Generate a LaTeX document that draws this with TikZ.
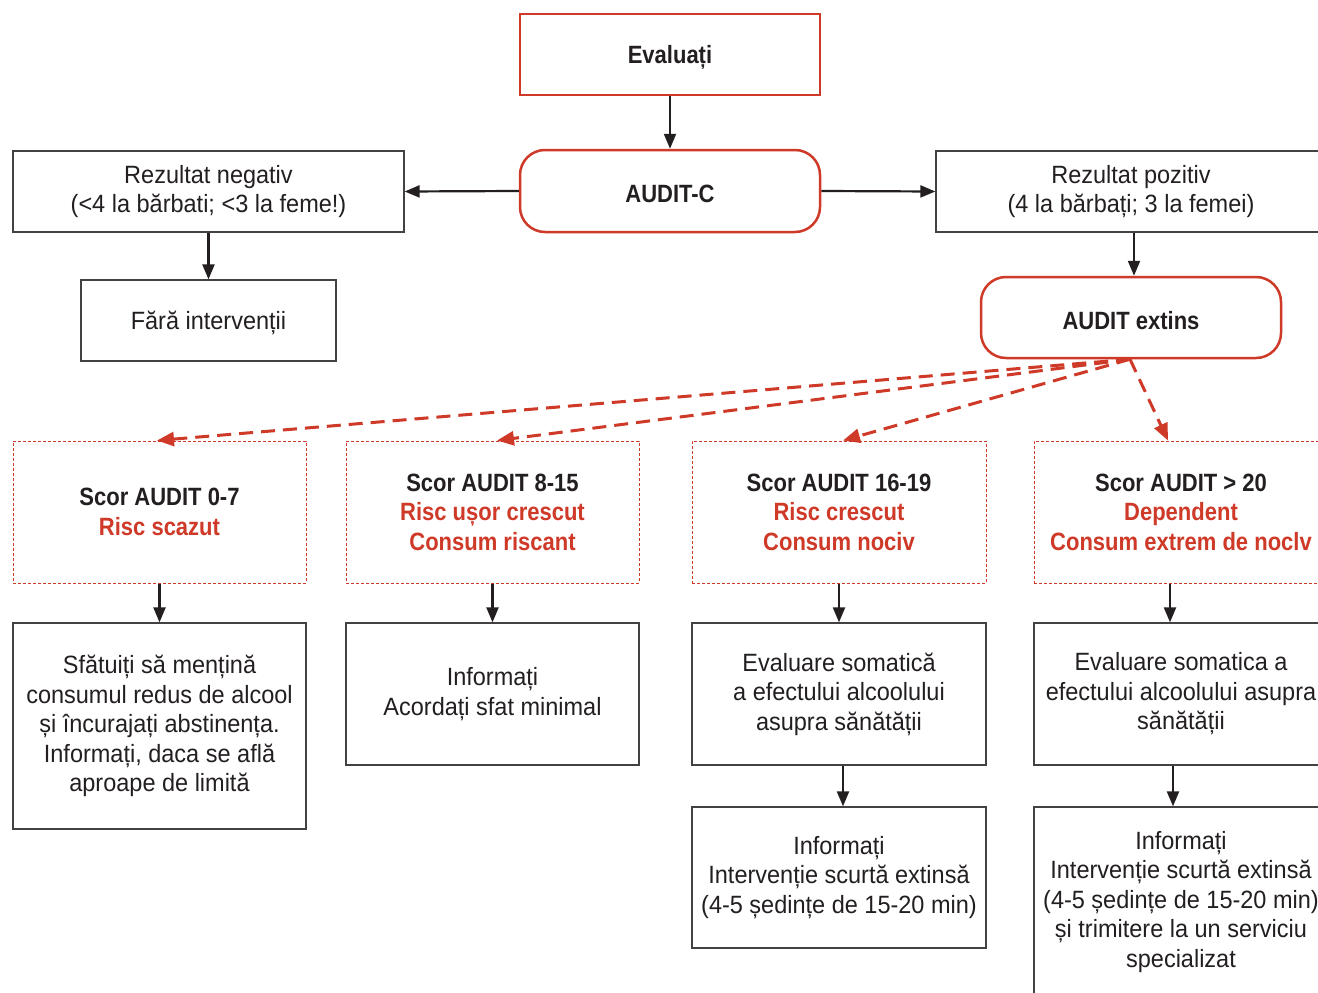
\documentclass[tikz,border=0pt]{standalone}
\usepackage{fontspec}
\setmainfont{Liberation Sans}[FakeStretch=0.94,BoldFeatures={FakeStretch=0.88}]
\usetikzlibrary{arrows.meta}
\definecolor{rd}{RGB}{207,57,40}
\definecolor{ink}{RGB}{35,31,32}
\begin{document}
\begin{tikzpicture}[x=1pt,y=-1pt,
  every node/.style={font=\fontsize{25}{29.5}\selectfont, text=ink, align=center, inner sep=0pt, execute at begin node={\rule{0pt}{24pt}}},
  blk/.style={draw=ink!85, line width=1.3pt, rectangle},
  redbox/.style={draw=rd, line width=2.5pt, font=\fontsize{25}{29.5}\selectfont\bfseries},
  scorebox/.style={draw=rd, line width=1pt, dash pattern=on 3pt off 2pt, font=\fontsize{25}{29.5}\selectfont\bfseries},
  arr/.style={draw=ink, line width=2.2pt, -{Triangle[length=15pt,width=12pt]}},
  darr/.style={draw=rd, line width=3pt, dash pattern=on 14pt off 8pt, -{Triangle[length=17pt,width=14pt]}},
]
\clip (0,0) rectangle (1318,993);
\fill[white] (0,0) rectangle (1318,993);

% top
\node[redbox, minimum width=300pt, minimum height=81pt] (ev) at (670,54.5) {Evaluați};
\node[redbox, rounded corners=25pt, minimum width=300pt, minimum height=82pt] (ac) at (670,191) {AUDIT-C};
\node[blk, minimum width=391pt, minimum height=81pt] (neg) at (208.5,191.5) {Rezultat negativ\\(<4 la bărbati; <3 la feme!)};
\node[blk, minimum width=390pt, minimum height=81pt] (poz) at (1131,191.5) {Rezultat pozitiv\\(4 la bărbați; 3 la femei)};
\node[blk, minimum width=255pt, minimum height=81pt] (fara) at (208.5,320.5) {Fără intervenții};
\node[redbox, rounded corners=25pt, minimum width=300pt, minimum height=81pt] (ext) at (1131,317.5) {AUDIT extins};

% score boxes
\node[scorebox, minimum width=293pt, minimum height=142pt] (s1) at (159.5,512) {Scor AUDIT 0-7\\\textcolor{rd}{Risc scazut}};
\node[scorebox, minimum width=293pt, minimum height=142pt] (s2) at (492.5,512) {Scor AUDIT 8-15\\\textcolor{rd}{Risc ușor crescut}\\\textcolor{rd}{Consum riscant}};
\node[scorebox, minimum width=294pt, minimum height=142pt] (s3) at (839,512) {Scor AUDIT 16-19\\\textcolor{rd}{Risc crescut}\\\textcolor{rd}{Consum nociv}};
\node[scorebox, minimum width=294pt, minimum height=142pt] (s4) at (1181,512) {Scor AUDIT > 20\\\textcolor{rd}{Dependent}\\\textcolor{rd}{Consum extrem de noclv}};

% action boxes
\node[blk, minimum width=293pt, minimum height=206pt] (a1) at (159.5,726) {Sfătuiți să mențină\\consumul redus de alcool\\și încurajați abstinența.\\Informați, daca se află\\aproape de limită};
\node[blk, minimum width=293pt, minimum height=142pt] (a2) at (492.5,694) {Informați\\Acordați sfat minimal};
\node[blk, minimum width=294pt, minimum height=142pt] (a3) at (839,694) {Evaluare somatică\\a efectului alcoolului\\asupra sănătății};
\node[blk, minimum width=294pt, minimum height=142pt] (a4) at (1181,694) {Evaluare somatica a\\efectului alcoolului asupra\\sănătății};
\node[blk, minimum width=294pt, minimum height=141pt] (b3) at (839,877.5) {Informați\\Intervenție scurtă extinsă\\(4-5 ședințe de 15-20 min)};
\node[blk, minimum width=294pt, minimum height=190pt] (b4) at (1181,902) {Informați\\Intervenție scurtă extinsă\\(4-5 ședințe de 15-20 min)\\și trimitere la un serviciu\\specializat};

% black arrows
\draw[arr] (ev.south) -- (ac.north);
\draw[arr] (ac.west) -- (neg.east);
\draw[arr] (ac.east) -- (poz.west);
\draw[arr] (neg.south) -- (fara.north);
\draw[arr] ([xshift=3pt]poz.south) -- ([xshift=3pt]poz.south |- ext.north);
\draw[arr] (s1.south) -- (a1.north);
\draw[arr] (s2.south) -- (a2.north);
\draw[arr] (s3.south) -- (a3.north);
\draw[arr] ([xshift=-11pt]s4.south) -- ([xshift=-11pt]s4.south |- a4.north);
\draw[arr] ([xshift=4pt]a3.south) -- ([xshift=4pt]a3.south |- b3.north);
\draw[arr] ([xshift=-8pt]a4.south) -- ([xshift=-8pt]a4.south |- b4.north);

% dashed red arrows
\draw[darr] ([xshift=-1pt]ext.south) -- ([xshift=-2.5pt]s1.north);
\draw[darr] ([xshift=-1pt]ext.south) -- ([xshift=4.5pt]s2.north);
\draw[darr] ([xshift=-1pt]ext.south) -- ([xshift=4pt]s3.north);
\draw[darr] ([xshift=-1pt]ext.south) -- ([xshift=-13pt]s4.north);
\end{tikzpicture}
\end{document}
